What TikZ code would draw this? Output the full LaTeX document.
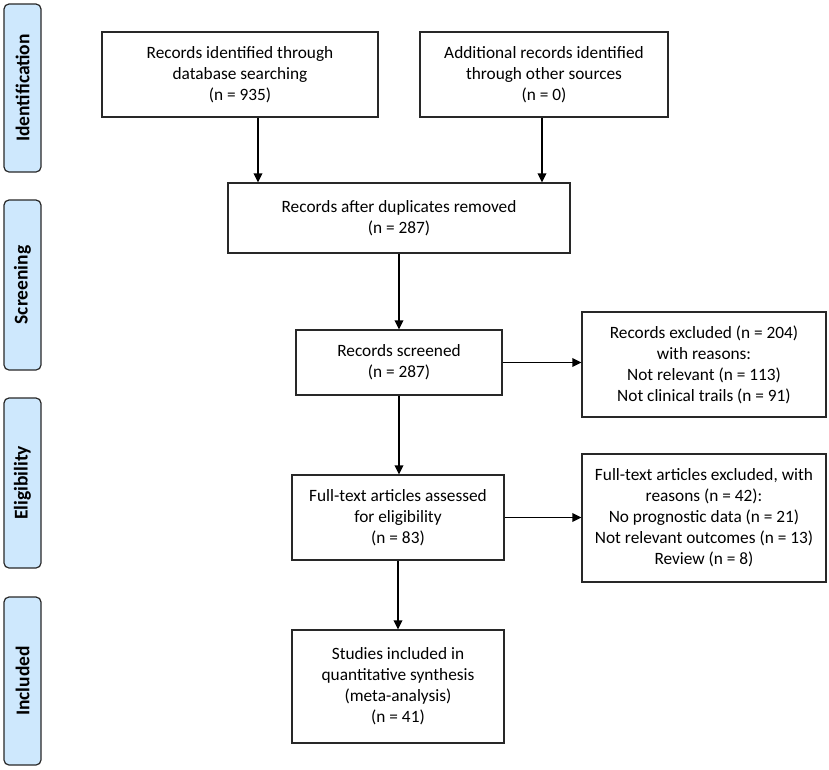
\documentclass[tikz,border=0pt]{standalone}
\usepackage{fontspec}
\setmainfont{Carlito}
\usetikzlibrary{arrows.meta,calc}
\definecolor{barblue}{RGB}{206,232,253}
\definecolor{edge}{RGB}{40,40,40}
\tikzset{
  box/.style={draw=edge, line width=1.2pt, fill=white, align=center, inner sep=2pt,
    font=\fontsize{17.3}{21}\selectfont},
  phase/.style={draw=edge, line width=1.2pt, fill=barblue, rounded corners=5pt,
    minimum width=37pt, inner sep=0pt},
  phaselabel/.style={rotate=90, font=\fontsize{19.5}{22}\selectfont\bfseries},
  arr/.style={line width=1.8pt, -{Triangle[length=9pt,width=8.5pt]}}
}
\begin{document}
\begin{tikzpicture}[x=1pt,y=-1pt]
\useasboundingbox (0,0) rectangle (829,769);
% phase bars
\node[phase, minimum height=168pt] (pid) at (22.5,88) {};
\node[phaselabel] (tid) at (pid.center) {Identification};
\node[phase, minimum height=170pt] (psc) at (22.5,285) {};
\node[phaselabel] (tsc) at (psc.center) {Screening};
\node[phase, minimum height=170pt] (pel) at (22.5,483) {};
\node[phaselabel] (tel) at (pel.center) {Eligibility};
\node[phase, minimum height=168pt] (pin) at (22.5,681) {};
\node[phaselabel] (tin) at (pin.center) {Included};
% boxes
\node[box, minimum width=276pt, minimum height=85pt] (b1) at (240,74.5)
  {Records identified through\\database searching\\(n = 935)};
\node[box, minimum width=248pt, minimum height=85pt] (b2) at (544,74.5)
  {Additional records identified\\through other sources\\(n = 0)};
\node[box, minimum width=342pt, minimum height=70pt] (b3) at (399,218)
  {Records after duplicates removed\\(n = 287)};
\node[box, minimum width=206pt, minimum height=65pt] (b4) at (399,362.5)
  {Records screened\\(n = 287)};
\node[box, minimum width=244pt, minimum height=105pt] (b5) at (704,364.5)
  {Records excluded (n = 204)\\with reasons:\\Not relevant (n = 113)\\Not clinical trails (n = 91)};
\node[box, minimum width=212pt, minimum height=85pt] (b6) at (398,517.5)
  {Full-text articles assessed\\for eligibility\\(n = 83)};
\node[box, minimum width=244pt, minimum height=128pt] (b7) at (704,518)
  {Full-text articles excluded, with\\reasons (n = 42):\\No prognostic data (n = 21)\\Not relevant outcomes (n = 13)\\Review (n = 8)};
\node[box, minimum width=212pt, minimum height=113pt] (b8) at (398,686.5)
  {Studies included in\\quantitative synthesis\\(meta-analysis)\\(n = 41)};
% connectors
\draw[arr] ([xshift=18pt]b1.south) -- ([xshift=18pt]b1.south |- b3.north);
\draw[arr] ([xshift=-2pt]b2.south) -- ([xshift=-2pt]b2.south |- b3.north);
\draw[arr] (b3.south) -- (b3.south |- b4.north);
\draw[arr] (b4.east) -- (b5.west |- b4.east);
\draw[arr] (b4.south) -- (b4.south |- b6.north);
\draw[arr] (b6.east) -- (b7.west |- b6.east);
\draw[arr] (b6.south) -- (b6.south |- b8.north);
\end{tikzpicture}
\end{document}
